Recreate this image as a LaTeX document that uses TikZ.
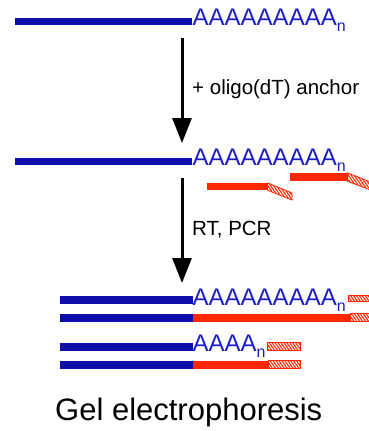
\documentclass[tikz,border=0pt]{standalone}
\usepackage{fontspec}
\setmainfont{Liberation Sans}
\usetikzlibrary{arrows.meta,patterns.meta}
\definecolor{dnablue}{HTML}{0E0EAA}
\definecolor{polyblue}{HTML}{1C1CCC}
\definecolor{cdnared}{HTML}{FF2600}
\tikzset{
  strand/.style={anchor=west, inner sep=0pt, minimum height=7pt, draw=none},
  bluebar/.style={strand, fill=dnablue},
  redbar/.style={strand, fill=cdnared},
  hatchfill/.style={draw=cdnared, line width=0.8pt, fill=white,
    postaction={pattern={Lines[angle=-55,distance=2.4pt,line width=1.1pt]}, pattern color=cdnared}},
  hatchbar/.style={strand, hatchfill},
  polyA/.style={anchor=base west, inner sep=0pt, text=polyblue, font=\fontsize{24}{28}\selectfont},
  steplabel/.style={anchor=west, inner sep=0pt, font=\fontsize{20.5}{24}\selectfont},
  steparrow/.style={line width=3pt, -{Triangle[length=25pt,width=19pt]}},
}
\newcommand{\subn}{\raisebox{-6pt}{\fontsize{16}{16}\selectfont n}}
\begin{document}
\begin{tikzpicture}[x=1pt,y=-1pt]
\useasboundingbox (0,0) rectangle (369,431);
% row 1
\node[bluebar, minimum width=177pt] (b1) at (15,21.5) {};
\node[polyA] (t1) at (192.5,25) {AAAAAAAAA\subn};
% arrow 1
\coordinate (a1s) at (182,38);
\coordinate (a1e) at (182,143);
\draw[steparrow] (a1s) -- (a1e);
\node[steplabel] (l1) at (192,89) {+ oligo(dT) anchor};
% row 2
\node[bluebar, minimum width=177pt] (b2) at (15,161) {};
\node[polyA] (t2) at (192.5,165) {AAAAAAAAA\subn};
\node[redbar, minimum width=60pt] (p1) at (207,186.5) {};
\path[hatchfill] (p1.north east) -- (292,193) -- (292,200) -- (p1.south east) -- cycle;
\node[redbar, minimum width=57pt, minimum height=8pt] (p2) at (290,177) {};
\path[hatchfill] (p2.north east) -- (373,183) -- (373,191) -- (p2.south east) -- cycle;
% arrow 2
\coordinate (a2s) at (182,178);
\coordinate (a2e) at (182,283);
\draw[steparrow] (a2s) -- (a2e);
\node[steplabel] (l2) at (192,229.5) {RT, PCR};
% row 3
\node[bluebar, minimum width=132.5pt, minimum height=8pt] (b3) at (60,300) {};
\node[polyA] (t3) at (192.5,305) {AAAAAAAAA\subn};
\node[hatchbar, minimum width=22pt, minimum height=6pt] (h3) at (348,298.5) {};
\node[redbar, minimum width=158pt, minimum height=8pt] (r3) at (192,317.5) {};
\node[bluebar, minimum width=132.5pt, minimum height=8pt] (b3b) at (60,317.5) {};
\node[hatchbar, minimum width=22pt, minimum height=8pt] (h3b) at (r3.east) {};
% row 4
\node[bluebar, minimum width=132.5pt, minimum height=8pt] (b4) at (60,346.5) {};
\node[polyA] (t4) at (192.5,351) {AAAA\subn};
\node[hatchbar, minimum width=33pt, minimum height=8pt] (h4) at (267,346.5) {};
\node[redbar, minimum width=76pt, minimum height=8pt] (r4) at (192,364.5) {};
\node[bluebar, minimum width=132.5pt, minimum height=8pt] (b4b) at (60,364.5) {};
\node[hatchbar, minimum width=32pt, minimum height=8pt] (h4b) at (r4.east) {};
% title
\node[anchor=base west, inner sep=0pt, font=\fontsize{31}{36}\selectfont] (title) at (55,420) {Gel electrophoresis};
\end{tikzpicture}
\end{document}
